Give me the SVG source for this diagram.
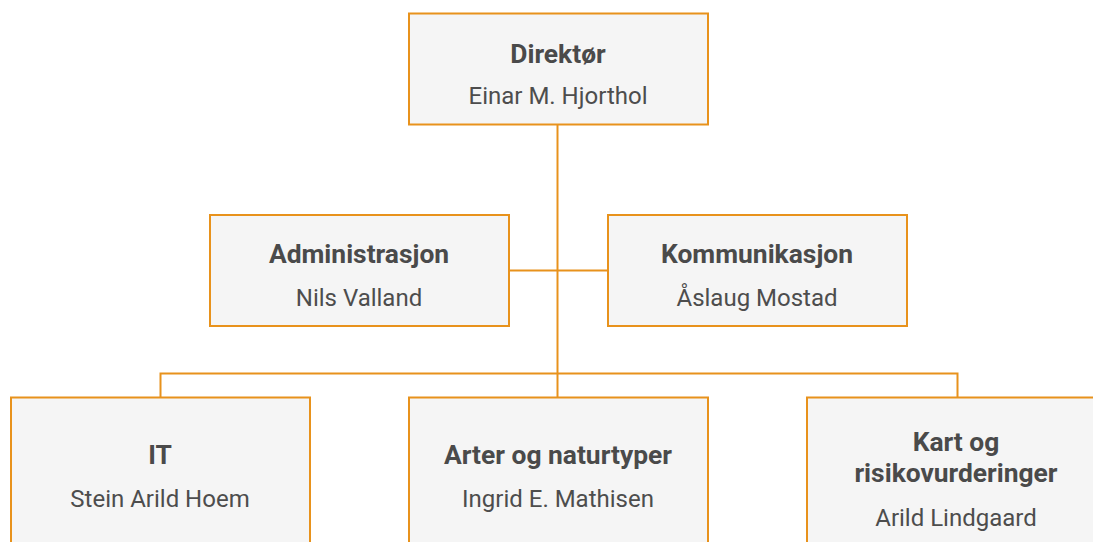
<svg xmlns="http://www.w3.org/2000/svg" width="1093" height="542" viewBox="0 0 1093 542">
<style>
.box{fill:#f5f5f5;stroke:#e8921c;stroke-width:2}
.conn{fill:none;stroke:#e8921c;stroke-width:2}
.t{font-family:Roboto,"Liberation Sans",sans-serif;font-weight:bold;font-size:26.4px;fill:#4a4a4a;text-anchor:middle}
.n{font-family:Roboto,"Liberation Sans",sans-serif;font-size:24px;fill:#4d4d4d;text-anchor:middle}
</style>
<rect width="1093" height="542" fill="#ffffff"/>
<g id="connectors">
<path class="conn" d="M557.5 125V373"/>
<path class="conn" d="M509 270.5H607"/>
<path class="conn" d="M160.5 397V373.5H957.5V397"/>
<path class="conn" d="M557.5 373V397"/>
</g>
<g id="direktor">
<rect class="box" x="409" y="13.5" width="299" height="111"/>
<text class="t" x="558" y="63">Direktør</text>
<text class="n" x="558" y="104">Einar M. Hjorthol</text>
</g>
<g id="administrasjon">
<rect class="box" x="210" y="215" width="299" height="111"/>
<text class="t" x="359" y="263">Administrasjon</text>
<text class="n" x="359" y="306">Nils Valland</text>
</g>
<g id="kommunikasjon">
<rect class="box" x="608" y="215" width="299" height="111"/>
<text class="t" x="757" y="263">Kommunikasjon</text>
<text class="n" x="757" y="306">Åslaug Mostad</text>
</g>
<g id="it">
<rect class="box" x="11" y="397.5" width="299" height="170"/>
<text class="t" x="160" y="464">IT</text>
<text class="n" x="160" y="507">Stein Arild Hoem</text>
</g>
<g id="arter">
<rect class="box" x="409" y="397.5" width="299" height="170"/>
<text class="t" x="558" y="464">Arter og naturtyper</text>
<text class="n" x="558" y="507">Ingrid E. Mathisen</text>
</g>
<g id="kart">
<rect class="box" x="807" y="397.5" width="299" height="170"/>
<text class="t" x="956" y="451">Kart og</text>
<text class="t" x="956" y="482">risikovurderinger</text>
<text class="n" x="956" y="526">Arild Lindgaard</text>
</g>
</svg>
